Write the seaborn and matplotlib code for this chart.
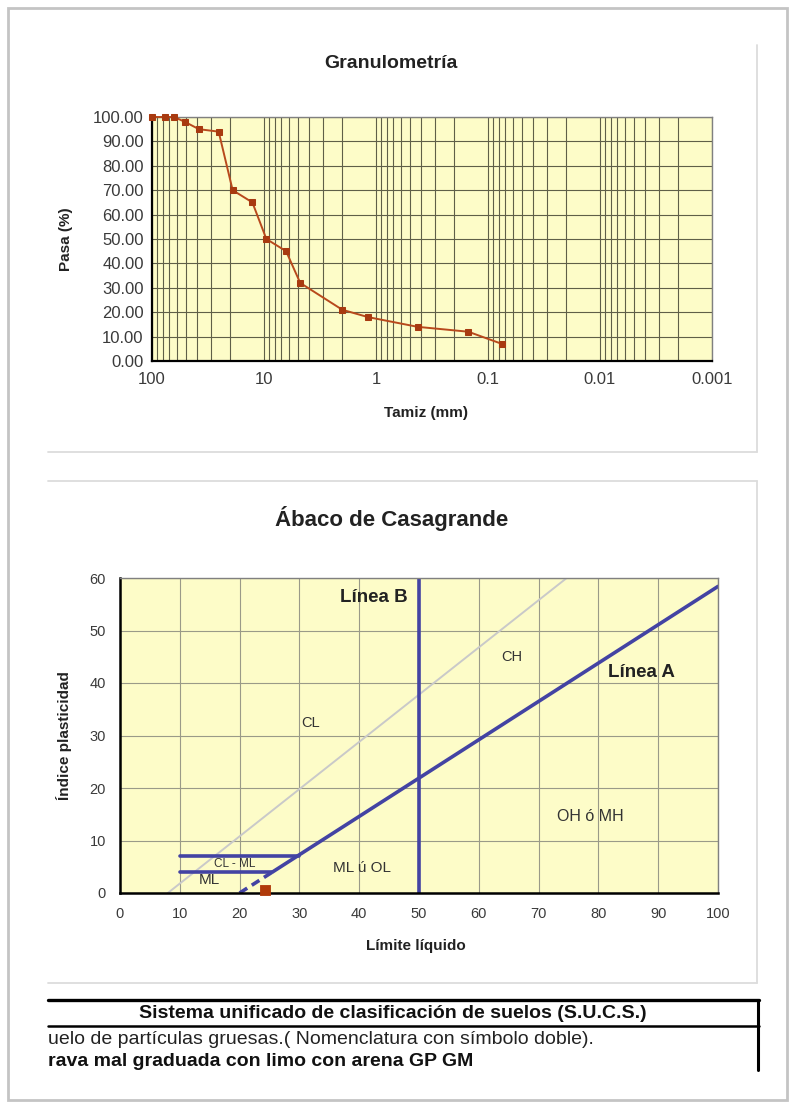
import matplotlib.pyplot as plt
import matplotlib.ticker as ticker
from matplotlib.lines import Line2D
from matplotlib.patches import Rectangle
import seaborn as sns

# Granulometria: sieve opening (mm) and percent passing
tamiz_mm = [100, 76.2, 63.5, 50.8, 38.1, 25.4, 19.05, 12.7, 9.525, 6.35, 4.75, 2.0, 1.18, 0.425, 0.15, 0.075]
pasa = [100, 100, 100, 98, 95, 94, 70, 65, 50, 45, 32, 21, 18, 14, 12, 7]
gran_yticks = [0, 10, 20, 30, 40, 50, 60, 70, 80, 90, 100]
gran_xticks = [100, 10, 1, 0.1, 0.01, 0.001]
gran_xticklabels = ['100', '10', '1', '0.1', '0.01', '0.001']

# Casagrande chart lines (LL, PI)
linea_a_ll = [25.5, 100]
linea_a_pi = [4.0, 58.4]
linea_a_dash_ll = [20, 25.5]
linea_a_dash_pi = [0, 4.0]
linea_b_ll = [50, 50]
linea_b_pi = [0, 60]
linea_u_ll = [8, 74.7]
linea_u_pi = [0, 60]
clml_top_ll = [10, 30]
clml_top_pi = [7, 7]
clml_bot_ll = [10, 25.5]
clml_bot_pi = [4, 4]
muestra_ll = [24.2]
muestra_pi = [0.6]
casa_xticks = [0, 10, 20, 30, 40, 50, 60, 70, 80, 90, 100]
casa_yticks = [0, 10, 20, 30, 40, 50, 60]

W, H = 793, 1106
sns.set_style("white")
plt.rcParams['font.family'] = ['Liberation Sans', 'DejaVu Sans']

fig = plt.figure(figsize=(W / 100, H / 100), dpi=100)


def fx(px):
    return px / W


def fy(py):
    return 1 - py / H


def hline(x0, x1, y, **kw):
    fig.add_artist(Line2D([fx(x0), fx(x1)], [fy(y), fy(y)], transform=fig.transFigure, **kw))


def vline(x, y0, y1, **kw):
    fig.add_artist(Line2D([fx(x), fx(x)], [fy(y0), fy(y1)], transform=fig.transFigure, **kw))


# page border and panel frames
fig.add_artist(Rectangle((fx(8), fy(1100)), fx(787) - fx(8), fy(8) - fy(1100),
                         transform=fig.transFigure, fill=False, edgecolor='#c4c4c4', linewidth=2))
frame = dict(color='#dcdcdc', linewidth=1.3)
vline(757, 45, 452, **frame)
hline(48, 757, 452, **frame)
hline(48, 757, 481, **frame)
vline(757, 481, 983, **frame)
hline(48, 757, 983, **frame)

bg = '#fdfcc8'
tick_color = '#3a3a3a'

# ---------------- Granulometria ----------------
ax1 = fig.add_axes([fx(152), fy(361), fx(712) - fx(152), fy(117) - fy(361)])
ax1.set_facecolor(bg)
ax1.set_xscale('log')
sns.lineplot(x=tamiz_mm, y=pasa, ax=ax1, color='#b8491c', linewidth=1.4,
             marker='s', markersize=5, markerfacecolor='#a83a10', markeredgecolor='#a83a10',
             estimator=None, sort=False, clip_on=False, zorder=5)
ax1.set_xlim(100, 0.001)
ax1.set_ylim(0, 100)
ax1.set_xticks(gran_xticks)
ax1.set_xticklabels(gran_xticklabels)
ax1.xaxis.set_minor_locator(ticker.LogLocator(base=10, subs=range(2, 10), numticks=20))
ax1.xaxis.set_minor_formatter(ticker.NullFormatter())
ax1.set_yticks(gran_yticks)
ax1.yaxis.set_major_formatter(ticker.FormatStrFormatter('%.2f'))
ax1.grid(True, which='both', axis='x', color='#5f5f48', linewidth=0.8)
ax1.grid(True, which='major', axis='y', color='#5f5f48', linewidth=0.8)
ax1.tick_params(axis='both', which='major', labelsize=12, colors=tick_color, length=4, width=0.8, pad=2)
ax1.tick_params(axis='x', which='minor', length=0)
ax1.tick_params(axis='x', which='major', length=0, pad=8)
for s in ['left', 'bottom']:
    ax1.spines[s].set_color('black')
    ax1.spines[s].set_linewidth(1.6)
for s in ['top', 'right']:
    ax1.spines[s].set_color('#808080')
    ax1.spines[s].set_linewidth(1.0)
ax1.set_xlabel('Tamiz (mm)', fontsize=11, fontweight='bold', color='#222222')
ax1.set_ylabel('Pasa (%)', fontsize=11, fontweight='bold', color='#222222')
ax1.xaxis.set_label_coords(0.49, -0.185)
ax1.yaxis.set_label_coords(-0.141, 0.5)
fig.text(fx(391), fy(63), 'Granulometría', ha='center', va='center',
         fontsize=14, fontweight='bold', color='#222222')

# ---------------- Abaco de Casagrande ----------------
blue = '#4343a3'
ax2 = fig.add_axes([fx(120), fy(893), fx(718) - fx(120), fy(578) - fy(893)])
ax2.set_facecolor(bg)
sns.lineplot(x=linea_u_ll, y=linea_u_pi, ax=ax2, color='#c9c9c9', linewidth=1.4, estimator=None, sort=False)
sns.lineplot(x=linea_a_ll, y=linea_a_pi, ax=ax2, color=blue, linewidth=2.6, estimator=None, sort=False)
sns.lineplot(x=linea_a_dash_ll, y=linea_a_dash_pi, ax=ax2, color=blue, linewidth=2.6,
             linestyle=(0, (2.5, 1.5)), estimator=None, sort=False)
sns.lineplot(x=linea_b_ll, y=linea_b_pi, ax=ax2, color=blue, linewidth=2.6, estimator=None, sort=False)
sns.lineplot(x=clml_top_ll, y=clml_top_pi, ax=ax2, color=blue, linewidth=2.6, estimator=None, sort=False)
sns.lineplot(x=clml_bot_ll, y=clml_bot_pi, ax=ax2, color=blue, linewidth=2.6, estimator=None, sort=False)
sns.scatterplot(x=muestra_ll, y=muestra_pi, ax=ax2, marker='s', s=60, color='#b03a0a',
                edgecolor='#b03a0a', zorder=5, clip_on=False)
ax2.set_xlim(0, 100)
ax2.set_ylim(0, 60)
ax2.set_xticks(casa_xticks)
ax2.set_yticks(casa_yticks)
ax2.grid(True, color='#9a9a88', linewidth=0.8)
ax2.tick_params(axis='both', labelsize=10.5, colors=tick_color)
ax2.tick_params(axis='x', pad=10, length=0)
ax2.tick_params(axis='y', pad=7, length=3, width=0.8)
for s in ['left', 'bottom']:
    ax2.spines[s].set_color('black')
    ax2.spines[s].set_linewidth(1.8)
for s in ['top', 'right']:
    ax2.spines[s].set_color('#808080')
    ax2.spines[s].set_linewidth(1.0)
ax2.set_xlabel('Límite líquido', fontsize=11, fontweight='bold', color='#222222')
ax2.set_ylabel('Índice plasticidad', fontsize=11, fontweight='bold', color='#222222')
ax2.xaxis.set_label_coords(0.495, -0.145)
ax2.yaxis.set_label_coords(-0.08, 0.5)

ax2.text(42.5, 56.2, 'Línea B', ha='center', va='center', fontsize=13.5, fontweight='bold', color='#222222')
ax2.text(87.2, 42.0, 'Línea A', ha='center', va='center', fontsize=13.5, fontweight='bold', color='#222222')
ax2.text(65.5, 45.0, 'CH', ha='center', va='center', fontsize=10.5, color='#333333')
ax2.text(31.9, 32.4, 'CL', ha='center', va='center', fontsize=10.5, color='#333333')
ax2.text(19.2, 5.6, 'CL - ML', ha='center', va='center', fontsize=8.5, color='#333333')
ax2.text(14.9, 2.4, 'ML', ha='center', va='center', fontsize=11, color='#333333')
ax2.text(40.4, 4.8, 'ML ú OL', ha='center', va='center', fontsize=11, color='#333333')
ax2.text(78.7, 14.5, 'OH ó MH', ha='center', va='center', fontsize=11.5, color='#333333')
fig.text(fx(392), fy(518), 'Ábaco de Casagrande', ha='center', va='center',
         fontsize=16, fontweight='bold', color='#222222')

# ---------------- table ----------------
hline(48, 759, 1000, color='black', linewidth=2.4)
hline(48, 759, 1026, color='black', linewidth=1.8)
vline(758, 1000, 1070, color='black', linewidth=2.2)
fig.text(fx(393), fy(1013), 'Sistema unificado de clasificación de suelos (S.U.C.S.)',
         ha='center', va='center', fontsize=14, fontweight='bold', color='#111111')
fig.text(fx(48), fy(1040), 'uelo de partículas gruesas.( Nomenclatura con símbolo doble).',
         ha='left', va='center', fontsize=14, color='#222222')
fig.text(fx(48), fy(1062), 'rava mal graduada con limo con arena GP GM',
         ha='left', va='center', fontsize=14, fontweight='bold', color='#111111')

fig.savefig('out.png', dpi=100)
